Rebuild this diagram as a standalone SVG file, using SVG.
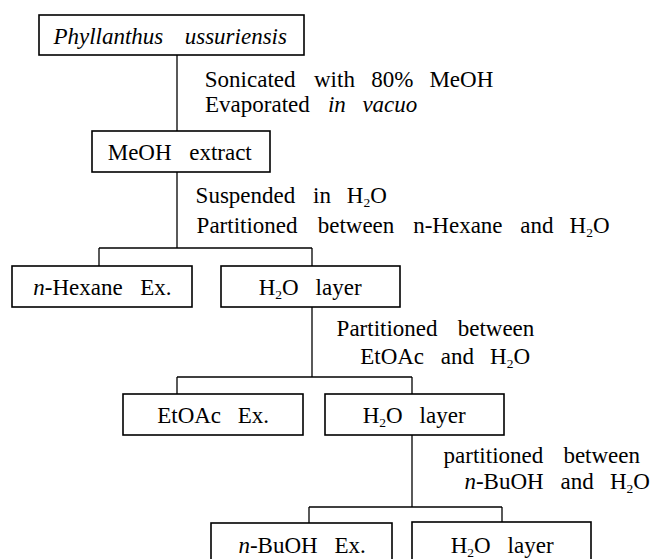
<svg xmlns="http://www.w3.org/2000/svg" width="670" height="559" viewBox="0 0 670 559">
<style>
  rect.box { fill: #fff; stroke: #000; stroke-width: 1.6; }
  .conn line { stroke: #000; stroke-width: 1.3; }
  .it { font-style: italic; }
  .sub { font-size: 13.5px; }
</style>
<rect width="670" height="559" fill="#fff"/>
<g id="connectors" class="conn">
  <line x1="177" y1="55" x2="177" y2="131"/>
  <line x1="177" y1="172" x2="177" y2="248"/>
  <line x1="99" y1="248" x2="312" y2="248"/>
  <line x1="99" y1="248" x2="99" y2="266"/>
  <line x1="312" y1="248" x2="312" y2="266"/>
  <line x1="312" y1="307" x2="312" y2="377"/>
  <line x1="177" y1="377" x2="412" y2="377"/>
  <line x1="177" y1="377" x2="177" y2="394"/>
  <line x1="412" y1="377" x2="412" y2="394"/>
  <line x1="412" y1="435" x2="412" y2="507"/>
  <line x1="309" y1="507" x2="502" y2="507"/>
  <line x1="309" y1="507" x2="309" y2="523"/>
  <line x1="502" y1="507" x2="502" y2="522"/>
</g>
<g font-family="Liberation Serif" font-size="23" fill="#000">
<g id="labels">
  <text y="87"><tspan x="204.8">Sonicated</tspan> <tspan x="314">with</tspan> <tspan x="371.3">80%</tspan> <tspan x="429.4">MeOH</tspan></text>
  <text y="112"><tspan x="205">Evaporated</tspan> <tspan x="327.9" class="it">in</tspan> <tspan x="362.4" class="it">vacuo</tspan></text>
  <text y="203"><tspan x="195.6">Suspended</tspan> <tspan x="313">in</tspan> <tspan x="346.8">H</tspan><tspan class="sub" dy="4">2</tspan><tspan dy="-4">O</tspan></text>
  <text y="233"><tspan x="196.6">Partitioned</tspan> <tspan x="317.7">between</tspan> <tspan x="413.2">n-Hexane</tspan> <tspan x="520.2">and</tspan> <tspan x="569.6">H</tspan><tspan class="sub" dy="4">2</tspan><tspan dy="-4">O</tspan></text>
  <text y="336"><tspan x="336.6">Partitioned</tspan> <tspan x="457.7">between</tspan></text>
  <text y="364"><tspan x="360.2">EtOAc</tspan> <tspan x="440.8">and</tspan> <tspan x="490.1">H</tspan><tspan class="sub" dy="4">2</tspan><tspan dy="-4">O</tspan></text>
  <text y="463"><tspan x="443.6">partitioned</tspan> <tspan x="563.4">between</tspan></text>
  <text y="489"><tspan x="464.4"><tspan class="it">n</tspan>-BuOH</tspan> <tspan x="560.5">and</tspan> <tspan x="609.9">H</tspan><tspan class="sub" dy="4">2</tspan><tspan dy="-4">O</tspan></text>
</g>
<g id="node-plant">
  <rect class="box" x="39" y="15" width="265" height="40"/>
  <text y="44" class="it"><tspan x="53.4">Phyllanthus</tspan> <tspan x="184.7">ussuriensis</tspan></text>
</g>
<g id="node-meoh">
  <rect class="box" x="92" y="131" width="178" height="41"/>
  <text y="160"><tspan x="107.7">MeOH</tspan> <tspan x="189.2">extract</tspan></text>
</g>
<g id="node-hexane">
  <rect class="box" x="12" y="266" width="180" height="41"/>
  <text y="295"><tspan x="33.3"><tspan class="it">n</tspan>-Hexane</tspan> <tspan x="140.3">Ex.</tspan></text>
</g>
<g id="node-h2o-1">
  <rect class="box" x="221" y="266" width="179" height="41"/>
  <text y="295"><tspan x="258.7">H</tspan><tspan class="sub" dy="4">2</tspan><tspan dy="-4">O</tspan> <tspan x="315.6">layer</tspan></text>
</g>
<g id="node-etoac">
  <rect class="box" x="123" y="394" width="180" height="41"/>
  <text y="423"><tspan x="157.2">EtOAc</tspan> <tspan x="237.8">Ex.</tspan></text>
</g>
<g id="node-h2o-2">
  <rect class="box" x="325" y="394" width="179" height="41"/>
  <text y="423"><tspan x="362.7">H</tspan><tspan class="sub" dy="4">2</tspan><tspan dy="-4">O</tspan> <tspan x="419.6">layer</tspan></text>
</g>
<g id="node-buoh">
  <rect class="box" x="211" y="523" width="181" height="44"/>
  <text y="553"><tspan x="238.4"><tspan class="it">n</tspan>-BuOH</tspan> <tspan x="334.5">Ex.</tspan></text>
</g>
<g id="node-h2o-3">
  <rect class="box" x="412" y="522" width="179" height="45"/>
  <text y="553"><tspan x="450.7">H</tspan><tspan class="sub" dy="4">2</tspan><tspan dy="-4">O</tspan> <tspan x="507.6">layer</tspan></text>
</g>
</g>
</svg>
